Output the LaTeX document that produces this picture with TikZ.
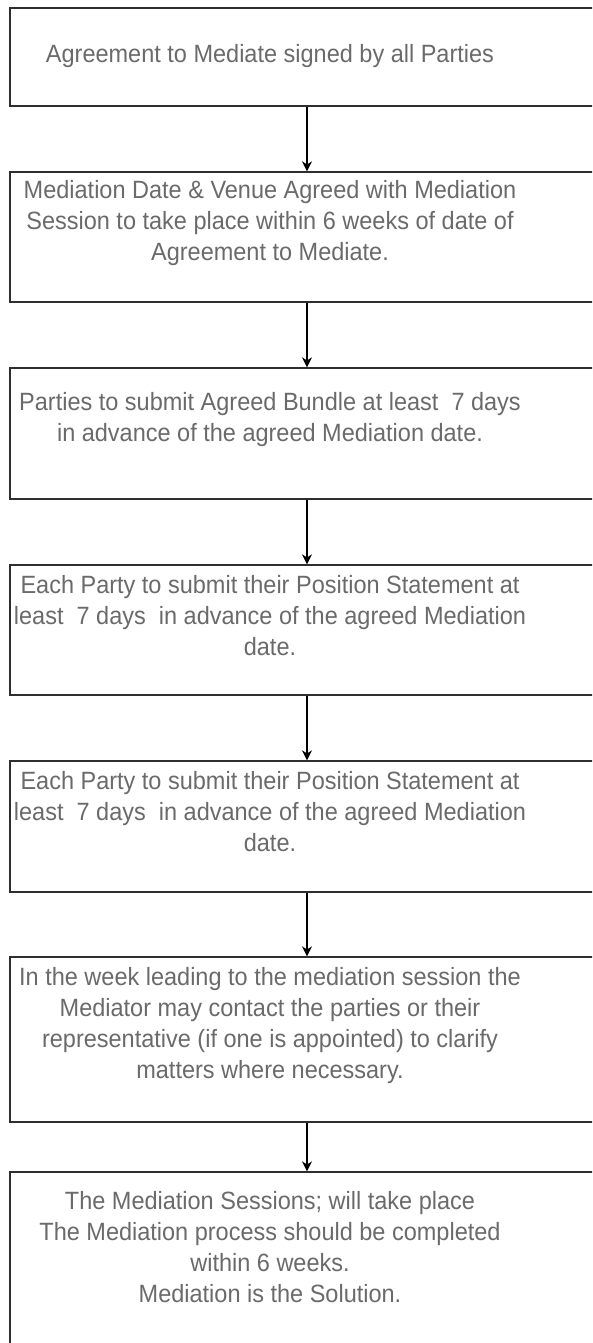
\documentclass[tikz,border=0pt]{standalone}
\usepackage{fontspec}
\setmainfont{Liberation Sans}[FakeStretch=0.94]
\usetikzlibrary{arrows.meta}
\definecolor{txtgray}{HTML}{6A6A6A}
\definecolor{linegray}{HTML}{2E2E2E}
\begin{document}
\begin{tikzpicture}[x=1pt, y=-1pt,
  stepbox/.style={draw=linegray, line width=1.4pt, minimum width=594pt, inner sep=0pt},
  steptext/.style={text=txtgray, align=center, inner sep=0pt, font=\fontsize{25}{31}\selectfont},
  flow/.style={-{Stealth[length=10pt, width=10pt]}, line width=1.3pt, draw=black}]
\useasboundingbox (0,0) rectangle (592,1343);
\clip (0,0) rectangle (592,1343);
\node[stepbox, minimum height=98pt] (b1) at (307,57) {};
\node[stepbox, minimum height=130pt] (b2) at (307,237) {};
\node[stepbox, minimum height=131pt] (b3) at (307,433.5) {};
\node[stepbox, minimum height=130pt] (b4) at (307,630) {};
\node[stepbox, minimum height=131pt] (b5) at (307,826.5) {};
\node[stepbox, minimum height=165pt] (b6) at (307,1039.5) {};
\node[stepbox, minimum height=196pt] (b7) at (307,1270) {};
\node[steptext] (t1) at (270,56) {Agreement to Mediate signed by all Parties};
\node[steptext] (t2) at (270,223) {Mediation Date \& Venue Agreed with Mediation\\Session to take place within 6 weeks of date of\\Agreement to Mediate.};
\node[steptext] (t3) at (270,420) {Parties to submit Agreed Bundle at least\ \ 7 days\\in advance of the agreed Mediation date.};
\node[steptext] (t4) at (270,616) {Each Party to submit their Position Statement at\\least\ \ 7 days\ \ in advance of the agreed Mediation\\date.};
\node[steptext] (t5) at (270,812) {Each Party to submit their Position Statement at\\least\ \ 7 days\ \ in advance of the agreed Mediation\\date.};
\node[steptext] (t6) at (270,1026) {In the week leading to the mediation session the\\Mediator may contact the parties or their\\representative (if one is appointed) to clarify\\matters where necessary.};
\node[steptext] (t7) at (270,1247) {The Mediation Sessions; will take place\\The Mediation process should be completed\\within 6 weeks.\\Mediation is the Solution.};
\draw[flow] (b1.south) -- (b2.north);
\draw[flow] (b2.south) -- (b3.north);
\draw[flow] (b3.south) -- (b4.north);
\draw[flow] (b4.south) -- (b5.north);
\draw[flow] (b5.south) -- (b6.north);
\draw[flow] (b6.south) -- (b7.north);
\end{tikzpicture}
\end{document}
